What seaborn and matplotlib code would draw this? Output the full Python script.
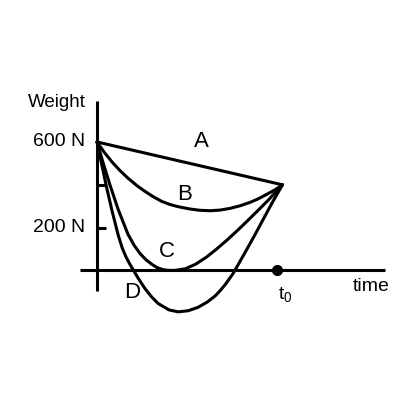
import pandas as pd
import matplotlib.pyplot as plt
import seaborn as sns

# Valores (tempo em unidades de t0, peso em N)
t_a = [0, 1.03]
w_a = [600, 400]

t_b = [0, 0.039, 0.083, 0.128, 0.172, 0.222, 0.267, 0.311, 0.361, 0.406, 0.45,
       0.517, 0.572, 0.628, 0.683, 0.739, 0.794, 0.85, 0.894, 0.944, 0.989, 1.03]
w_b = [600, 553, 507, 466, 431, 396, 369, 345, 322, 308, 298,
       287, 281, 279, 282, 290, 302, 318, 334, 356, 377, 400]

t_c = [0, 0.033, 0.072, 0.117, 0.172, 0.206, 0.239, 0.272, 0.306, 0.333, 0.361,
       0.389, 0.43, 0.491, 0.549, 0.607, 0.664, 0.722, 0.779, 0.837, 0.895,
       0.953, 1.011, 1.03]
w_c = [600, 505, 399, 286, 169, 118, 79, 50, 28, 14, 5,
       1, 0, 8, 30, 62, 100, 142, 186, 233, 281,
       330, 383, 400]

t_d = [0, 0.025, 0.05, 0.083, 0.117, 0.14, 0.16, 0.18, 0.203, 0.23, 0.267,
       0.3, 0.339, 0.4, 0.45, 0.506, 0.561, 0.611, 0.656, 0.683, 0.711,
       0.756, 0.794, 0.833, 0.878, 0.922, 0.972, 1.03]
w_d = [600, 500, 400, 280, 167, 105, 65, 33, 0, -38, -85,
       -120, -154, -184, -193, -188, -172, -148, -119, -95, -67,
       -14, 42, 100, 168, 237, 315, 400]

curve_names = ['A', 'B', 'C', 'D']
tick_values = [200, 400]
tick_labels = ['600 N', '200 N']
tick_label_values = [600, 200]
t0 = 1.0

# Montando DataFrame em formato longo
frames = []
for name, t, w in zip(curve_names, [t_a, t_b, t_c, t_d], [w_a, w_b, w_c, w_d]):
    frames.append(pd.DataFrame({'t': t, 'W': w, 'curva': name}))
df = pd.concat(frames, ignore_index=True)

sns.set_style('white')
plt.rcParams['font.family'] = ['Liberation Sans', 'DejaVu Sans']
plt.rcParams['mathtext.default'] = 'regular'
plt.rcParams['text.color'] = 'black'
plt.rcParams['lines.solid_joinstyle'] = 'round'

fig = plt.figure(figsize=(4, 4), dpi=100)
ax = fig.add_axes([0, 0, 1, 1])

sns.lineplot(data=df, x='t', y='W', hue='curva', sort=False,
             palette={n: 'black' for n in curve_names}, legend=False,
             linewidth=2.2, ax=ax)

# Eixos desenhados à mão
ax.plot([0, 0], [-96, 791], color='black', linewidth=2.2, solid_capstyle='butt')
ax.plot([-0.094, 1.6], [0, 0], color='black', linewidth=2.2, solid_capstyle='butt')
for v in tick_values:
    ax.plot([0, 0.05], [v, v], color='black', linewidth=2.2, solid_capstyle='butt')

# Ponto t0
ax.plot([t0], [0], marker='o', markersize=7, color='black')

# Textos
for lab, v in zip(tick_labels, tick_label_values):
    ax.text(-0.067, v, lab, ha='right', va='center', fontsize=14)
ax.text(-0.222, 782, 'Weight', ha='center', va='center', fontsize=13.5)
ax.text(1.522, -75, 'time', ha='center', va='center', fontsize=14)
ax.text(1.045, -110, 't$_0$', ha='center', va='center', fontsize=14)

letter_pos = {'A': (0.578, 600), 'B': (0.489, 357), 'C': (0.389, 91), 'D': (0.194, -105)}
for n in curve_names:
    x, y = letter_pos[n]
    ax.text(x, y, n, ha='center', va='center', fontsize=16)

ax.set_xlim(-0.539, 1.683)
ax.set_ylim(-604.6, 1262.8)
ax.axis('off')

fig.savefig('out.png', dpi=100)
